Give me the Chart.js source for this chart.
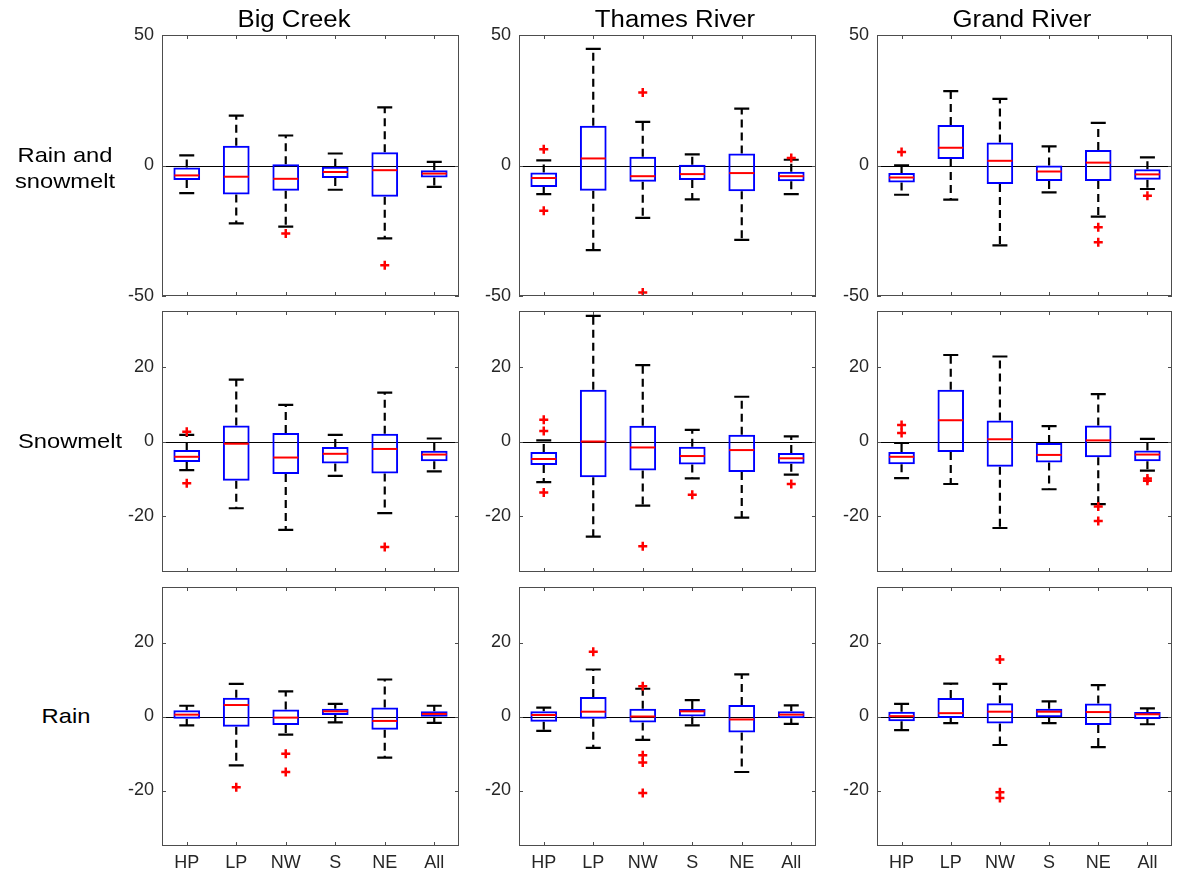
<!DOCTYPE html>
<html>
<head>
<meta charset="utf-8">
<script src="https://cdn.jsdelivr.net/npm/chart.js"></script>
<style>
  body { margin: 0; background: #fff; font-family: "Liberation Sans", Arial, sans-serif; }
  #wrap { position: relative; width: 1182px; height: 879px; overflow: hidden; }
  canvas { position: absolute; }
  .lbl { position: absolute; color: #000; white-space: nowrap; text-align: center; z-index: 2; }
</style>
</head>
<body>
<div id="wrap"></div>
<script>
const categories = ['HP', 'LP', 'NW', 'S', 'NE', 'All'];
const rivers = ['Big Creek', 'Thames River', 'Grand River'];
const sources = ['Rain and\nsnowmelt', 'Snowmelt', 'Rain'];
const yTicksTop = [-50, 0, 50];
const yTicksLower = [-20, 0, 20];

// each box: [lower whisker, q1, median, q3, upper whisker]
const bigCreekBoth = [[-10.6, -5.6, -3.8, -0.8, 3.9], [-22.2, -11.1, -4.3, 7.6, 19.1], [-23.4, -9.7, -5.1, 0.5, 11.5],
  [-9.3, -4.8, -2.5, -0.5, 4.6], [-27.9, -12.0, -1.8, 5.1, 22.3], [-8.2, -4.6, -3.1, -1.8, 1.4]];
const bigCreekBothOut = [[], [], [-26.1], [], [-38.2], []];
const thamesBoth = [[-11.0, -8.2, -4.8, -2.7, 2.0], [-32.4, -9.7, 2.7, 15.2, 44.7], [-20.1, -6.2, -4.1, 3.4, 16.7],
  [-13.0, -5.6, -3.3, 0.3, 4.3], [-28.5, -9.9, -2.9, 4.6, 21.8], [-11.0, -6.0, -4.1, -2.4, 2.2]];
const thamesBothOut = [[6.2, -17.3], [], [28.0, -48.7], [], [], [2.9]];
const grandBoth = [[-11.2, -6.5, -4.6, -2.9, 0.1], [-13.1, 2.5, 6.8, 15.5, 28.5], [-30.6, -7.1, 1.8, 8.8, 25.5],
  [-10.3, -5.9, -2.3, 0, 7.3], [-19.6, -5.9, 1.1, 5.9, 16.3], [-9.0, -5.5, -3.4, -1.4, 3.1]];
const grandBothOut = [[5.2], [], [], [], [-23.7, -29.4], [-11.6]];

const bigCreekSnow = [[-7.7, -5.5, -4.1, -2.3, 1.8], [-17.9, -10.5, -0.6, 4.3, 16.6], [-23.7, -8.7, -4.3, 2.3, 9.8],
  [-9.2, -5.9, -3.3, -1.5, 1.8], [-19.2, -8.6, -2.0, 2.1, 13.1], [-8.0, -5.3, -3.5, -2.5, 0.8]];
const bigCreekSnowOut = [[2.6, -11.2], [], [], [], [-28.3], []];
const thamesSnow = [[-10.9, -6.3, -4.7, -2.8, 0.3], [-25.5, -9.6, 0, 13.9, 33.7], [-17.2, -7.8, -1.6, 4.2, 20.5],
  [-9.9, -6.2, -3.9, -1.4, 3.1], [-20.4, -8.2, -2.3, 1.8, 12.0], [-8.9, -6.0, -4.5, -3.1, 1.4]];
const thamesSnowOut = [[5.8, 2.8, -13.7], [], [-28.1], [-14.3], [], [-11.4]];
const grandSnow = [[-9.8, -6.1, -4.1, -2.8, -0.4], [-11.4, -2.8, 5.7, 13.9, 23.2], [-23.2, -6.8, 0.6, 5.6, 22.8],
  [-12.8, -5.6, -3.6, -0.4, 4.1], [-16.8, -4.2, 0.3, 4.3, 12.7], [-7.8, -5.3, -3.5, -2.4, 0.7]];
const grandSnowOut = [[4.4, 2.3], [], [], [], [-17.4, -21.3], [-9.9, -10.5]];

const bigCreekRain = [[-2.4, -0.6, 0.5, 1.7, 2.9], [-13.2, -2.8, 3.1, 5.1, 8.8], [-4.9, -2.3, -0.3, 1.9, 6.8],
  [-1.6, 0.4, 1.4, 2.1, 3.4], [-11.1, -3.6, -1.2, 2.4, 10.0], [-1.7, -0.1, 0.7, 1.4, 2.9]];
const bigCreekRainOut = [[], [-19.1], [-10.1, -15.0], [], [], []];
const thamesRain = [[-3.9, -1.4, 0.4, 1.4, 2.4], [-8.5, -0.6, 1.3, 5.3, 12.7], [-6.3, -1.6, 0, 2.1, 7.5],
  [-2.4, 0, 1.4, 2.0, 4.4], [-15.0, -4.3, -0.8, 3.1, 11.4], [-2.0, -0.5, 0.5, 1.4, 3.0]];
const thamesRainOut = [[], [17.5], [8.2, -10.5, -12.4, -20.7], [], [], []];
const grandRain = [[-3.7, -1.3, 0.1, 1.3, 3.4], [-1.8, -0.4, 0.9, 5.0, 8.9], [-7.7, -1.9, 1.3, 3.6, 8.8],
  [-1.8, -0.2, 1.3, 2.1, 4.1], [-8.3, -2.3, 1.2, 3.5, 8.5], [-2.1, -0.7, 0.6, 1.2, 2.2]];
const grandRainOut = [[], [], [15.4, -20.5, -22.0], [], [], []];

const panelStats = [
  [bigCreekBoth, thamesBoth, grandBoth],
  [bigCreekSnow, thamesSnow, grandSnow],
  [bigCreekRain, thamesRain, grandRain]
];
const panelOutliers = [
  [bigCreekBothOut, thamesBothOut, grandBothOut],
  [bigCreekSnowOut, thamesSnowOut, grandSnowOut],
  [bigCreekRainOut, thamesRainOut, grandRainOut]
];

// layout of the axes boxes in the page
const colLeft = [162, 519, 877];
const colWidth = [300, 300, 298];
const rowTop = [35, 311, 587];
const rowHeight = [261, 261, 259];

const wrap = document.getElementById('wrap');

// whiskers, medians, zero line and frame drawn through the chart scales
const boxPlot = {
  id: 'boxPlot',
  beforeDatasetsDraw(chart) {
    const { ctx, chartArea: a, scales: { x, y } } = chart;
    const stats = chart.data.datasets[1].stats;
    ctx.save();
    ctx.strokeStyle = '#000';
    ctx.lineWidth = 1;
    const y0 = Math.round(y.getPixelForValue(0)) + 0.5;
    ctx.beginPath();
    ctx.moveTo(a.left, y0);
    ctx.lineTo(a.right, y0);
    ctx.stroke();

    ctx.lineWidth = 2.2;
    stats.forEach((s, i) => {
      const cx = x.getPixelForValue(i);
      ctx.setLineDash([8, 5]);
      ctx.beginPath();
      ctx.moveTo(cx, y.getPixelForValue(s[3]));
      ctx.lineTo(cx, y.getPixelForValue(s[4]));
      ctx.moveTo(cx, y.getPixelForValue(s[1]));
      ctx.lineTo(cx, y.getPixelForValue(s[0]));
      ctx.stroke();
      ctx.setLineDash([]);
      ctx.beginPath();
      [s[0], s[4]].forEach(v => {
        const py = y.getPixelForValue(v);
        ctx.moveTo(cx - 7.5, py);
        ctx.lineTo(cx + 7.5, py);
      });
      ctx.stroke();
    });
    ctx.restore();
  },
  afterDatasetsDraw(chart) {
    const { ctx, chartArea: a, scales: { x, y } } = chart;
    const stats = chart.data.datasets[1].stats;
    ctx.save();
    ctx.strokeStyle = '#ff0000';
    ctx.lineWidth = 2;
    stats.forEach((s, i) => {
      const cx = x.getPixelForValue(i);
      const py = y.getPixelForValue(s[2]);
      ctx.beginPath();
      ctx.moveTo(cx - 12.5, py);
      ctx.lineTo(cx + 12.5, py);
      ctx.stroke();
    });
    // frame and inward ticks
    ctx.strokeStyle = '#4d4d4d';
    ctx.lineWidth = 1;
    ctx.strokeRect(a.left + 0.5, a.top + 0.5, a.right - a.left - 1, a.bottom - a.top - 1);
    ctx.beginPath();
    categories.forEach((c, i) => {
      const px = Math.round(x.getPixelForValue(i)) + 0.5;
      ctx.moveTo(px, a.top); ctx.lineTo(px, a.top + 4);
      ctx.moveTo(px, a.bottom); ctx.lineTo(px, a.bottom - 4);
    });
    y.ticks.forEach(t => {
      const py = Math.round(y.getPixelForValue(t.value)) + 0.5;
      ctx.moveTo(a.left, py); ctx.lineTo(a.left + 4, py);
      ctx.moveTo(a.right, py); ctx.lineTo(a.right - 4, py);
    });
    ctx.stroke();
    ctx.restore();
  }
};

function makePanel(r, c) {
  const stats = panelStats[r][c];
  const outliers = panelOutliers[r][c];
  // padTop and xH exceed the half label height + tick padding so Chart.js keeps the area exact
  const yLeft = 60, padTop = 20, padRight = 4;
  const xH = r === 2 ? 34 : 20;
  const canvas = document.createElement('canvas');
  canvas.width = yLeft + colWidth[c] + padRight;
  canvas.height = padTop + rowHeight[r] + xH;
  canvas.style.left = (colLeft[c] - yLeft) + 'px';
  canvas.style.top = (rowTop[r] - padTop) + 'px';
  wrap.appendChild(canvas);

  const ticks = r === 0 ? yTicksTop : yTicksLower;
  const lim = r === 0 ? 50 : 35;

  new Chart(canvas.getContext('2d'), {
    type: 'bar',
    data: {
      labels: categories,
      datasets: [
        {
          type: 'line',
          data: outliers.flatMap((vals, i) => vals.map(v => ({ x: categories[i], y: v }))),
          showLine: false,
          pointStyle: 'cross',
          pointRadius: 4.5,
          pointBorderWidth: 2.5,
          borderColor: '#ff0000',
          backgroundColor: '#ff0000'
        },
        {
          type: 'bar',
          stats: stats,
          data: stats.map(s => [s[1], s[3]]),
          backgroundColor: 'rgba(0,0,0,0)',
          borderColor: '#0000ff',
          borderWidth: 2,
          borderSkipped: false,
          barPercentage: 0.54,
          categoryPercentage: 1
        }
      ]
    },
    options: {
      responsive: false,
      animation: false,
      devicePixelRatio: 1,
      layout: { padding: { left: 0, top: padTop, right: padRight, bottom: 0 } },
      plugins: { legend: { display: false }, tooltip: { enabled: false } },
      scales: {
        x: {
          grid: { display: false, drawTicks: false },
          border: { display: false },
          ticks: {
            display: r === 2,
            padding: 6,
            color: '#262626',
            font: { family: 'Liberation Sans, Arial, sans-serif', size: 18 }
          },
          afterFit: s => { s.height = xH; }
        },
        y: {
          min: -lim,
          max: lim,
          afterBuildTicks: axis => { axis.ticks = ticks.map(v => ({ value: v })); },
          grid: { display: false, drawTicks: false },
          border: { display: false },
          ticks: {
            padding: 8,
            color: '#262626',
            font: { family: 'Liberation Sans, Arial, sans-serif', size: 18 }
          },
          afterFit: s => { s.width = yLeft; }
        }
      }
    },
    plugins: [boxPlot]
  });
}

for (let r = 0; r < 3; r++) {
  for (let c = 0; c < 3; c++) makePanel(r, c);
}

// column titles and row labels
const titleX = [294, 675, 1022];
rivers.forEach((t, i) => {
  const d = document.createElement('div');
  d.className = 'lbl';
  d.textContent = t;
  d.style.font = '23px "Liberation Sans", Arial, sans-serif';
  d.style.lineHeight = '26px';
  d.style.left = titleX[i] + 'px';
  d.style.top = '19px';
  d.style.transform = 'translate(-50%, -50%) scaleX(1.12)';
  wrap.appendChild(d);
});

const rowLabelX = [65, 70, 66];
const rowLabelY = [168, 441, 716];
sources.forEach((t, i) => {
  const d = document.createElement('div');
  d.className = 'lbl';
  d.style.whiteSpace = 'pre';
  d.textContent = t;
  d.style.font = '21px "Liberation Sans", Arial, sans-serif';
  d.style.lineHeight = '26.3px';
  d.style.left = rowLabelX[i] + 'px';
  d.style.top = rowLabelY[i] + 'px';
  d.style.transform = 'translate(-50%, -50%) scaleX(1.13)';
  wrap.appendChild(d);
});
</script>
</body>
</html>
